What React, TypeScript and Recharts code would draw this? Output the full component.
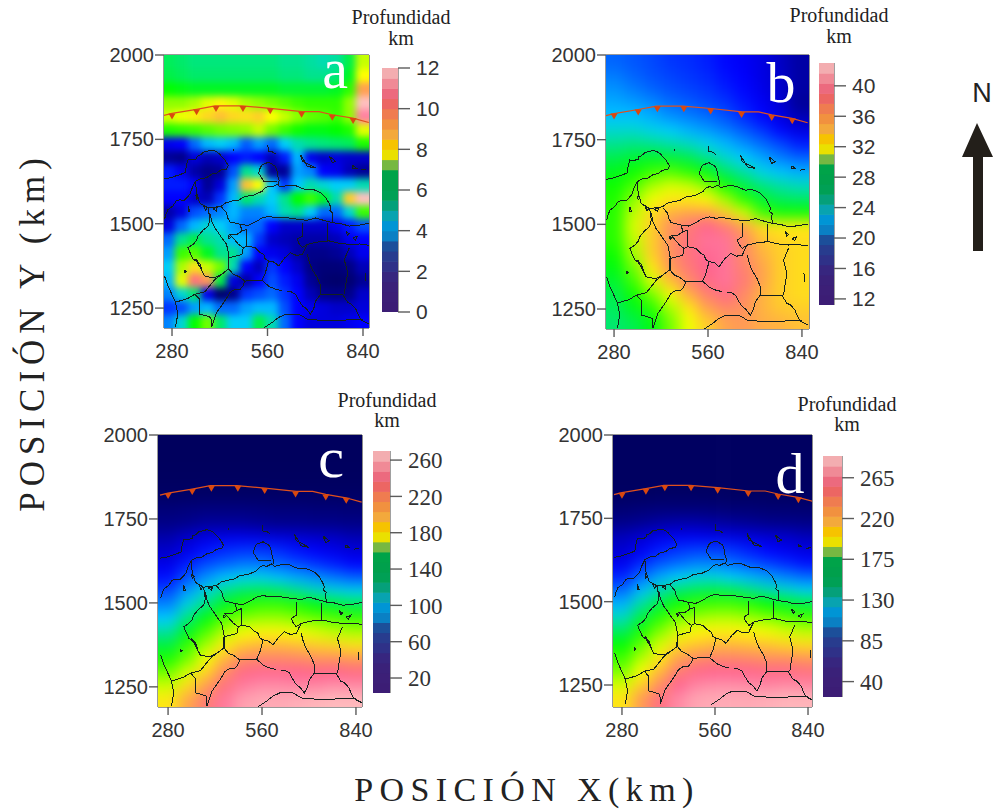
import React from "react";
import { ScatterChart, Scatter, XAxis, YAxis } from "recharts";

type Pt = { x: number; y: number };

// grid centres, km
const gridRows = [1980, 1939, 1899, 1858, 1818, 1777, 1737, 1696, 1656, 1615, 1575, 1534, 1494, 1453, 1413, 1372, 1332, 1291, 1251, 1210];
const gridColsA = [270, 307, 346, 383, 422, 459, 497, 535, 572, 611, 648, 686, 724, 761, 800, 837];
const gridCols = [284, 338, 393, 447, 502, 556, 612, 666, 721, 775, 830];

const depthA = [
  [5.5, 5.4, 5.3, 5.3, 5.3, 5.3, 5.3, 5.3, 5.3, 5.2, 5.2, 5.1, 5.0, 5.1, 5.6, 7.4],
  [5.6, 5.5, 5.4, 5.4, 5.4, 5.4, 5.4, 5.4, 5.4, 5.3, 5.3, 5.2, 5.2, 5.3, 5.8, 7.8],
  [6.0, 5.9, 5.8, 5.8, 5.8, 5.8, 5.8, 5.8, 5.8, 5.7, 5.7, 5.7, 5.7, 5.8, 6.3, 9.0],
  [7.0, 7.0, 7.2, 7.6, 7.9, 7.6, 7.2, 7.0, 6.8, 6.6, 6.4, 6.3, 6.3, 6.3, 7.0, 12.0],
  [7.5, 7.7, 8.0, 8.3, 8.6, 8.3, 8.2, 8.4, 7.8, 7.4, 7.0, 6.7, 6.6, 6.4, 7.0, 11.0],
  [6.2, 6.3, 6.4, 6.6, 6.8, 6.9, 7.0, 7.4, 6.8, 6.4, 6.1, 5.9, 5.9, 6.0, 6.2, 7.6],
  [2.8, 3.0, 3.8, 4.4, 4.6, 4.4, 3.7, 4.2, 3.8, 4.6, 5.0, 5.2, 5.3, 5.4, 5.5, 6.2],
  [1.8, 1.6, 2.6, 2.2, 2.4, 3.0, 3.2, 3.0, 2.2, 3.2, 4.4, 2.8, 2.4, 2.6, 2.4, 2.4],
  [3.2, 2.8, 2.0, 1.6, 1.8, 3.6, 5.2, 4.8, 1.8, 1.8, 4.2, 4.0, 3.0, 2.8, 2.2, 1.8],
  [3.2, 3.2, 3.0, 1.8, 2.6, 4.2, 8.6, 7.8, 4.5, 3.4, 4.5, 5.0, 4.8, 4.6, 4.6, 5.0],
  [3.0, 3.0, 2.4, 2.2, 3.4, 4.4, 5.4, 5.0, 4.6, 5.2, 6.0, 6.4, 5.8, 5.0, 8.4, 12.0],
  [2.0, 2.6, 3.6, 3.8, 4.0, 4.4, 4.0, 4.0, 4.4, 5.0, 5.2, 4.6, 3.8, 3.8, 4.8, 6.4],
  [2.6, 3.8, 4.4, 4.8, 4.6, 4.2, 3.8, 3.8, 3.0, 2.4, 2.4, 2.4, 2.4, 2.8, 3.2, 3.6],
  [3.8, 5.2, 5.6, 5.2, 5.0, 4.4, 4.4, 3.4, 2.4, 2.2, 2.0, 2.0, 2.0, 2.2, 2.8, 3.0],
  [4.2, 6.4, 6.6, 5.8, 5.2, 5.2, 4.2, 3.0, 2.8, 2.6, 2.0, 1.6, 1.6, 1.8, 2.2, 2.8],
  [4.6, 7.2, 8.2, 7.4, 6.8, 5.0, 3.0, 2.2, 3.4, 3.0, 2.4, 1.4, 1.0, 1.0, 1.4, 2.2],
  [4.4, 7.6, 10.0, 9.2, 5.6, 2.6, 2.0, 3.0, 3.6, 3.2, 2.8, 1.8, 0.8, 0.6, 0.8, 1.8],
  [4.0, 4.8, 5.4, 2.8, 0.6, 1.6, 3.4, 3.6, 3.8, 3.4, 3.0, 2.2, 1.6, 1.4, 1.6, 2.4],
  [3.4, 3.6, 4.2, 4.4, 3.8, 3.8, 4.2, 4.4, 4.4, 3.6, 3.0, 2.8, 2.6, 2.4, 2.4, 2.6],
  [4.0, 4.8, 6.0, 6.8, 5.4, 4.6, 4.6, 5.6, 5.0, 3.8, 3.0, 2.6, 2.6, 2.6, 2.8, 3.0],
];

const depthB = [
  [21, 20.7, 20.4, 20, 19.8, 19.5, 19, 18.6, 18, 17, 16],
  [21.5, 21, 20.6, 20.3, 20, 19.7, 19.2, 18.8, 18, 17.2, 16],
  [22, 21.5, 21, 20.6, 20.3, 20, 19.5, 19, 18.2, 17.2, 16],
  [22.5, 22.2, 21.8, 21.2, 20.8, 20.4, 20, 19.3, 18.6, 17.5, 15.5],
  [23, 23, 22.6, 22, 21.6, 21.2, 20.6, 19.8, 19, 18, 16.5],
  [24, 24, 23.6, 23.3, 22.7, 22.2, 21.6, 20.8, 20, 19, 18],
  [25, 25.2, 25, 24.6, 24.2, 23.6, 22.8, 22, 21.2, 20.4, 19.5],
  [26, 26.4, 26.6, 26.4, 26, 25, 24, 23.2, 22.4, 21.6, 21],
  [26.8, 27.5, 28.4, 28.8, 28, 27, 25.6, 24.6, 23.6, 23, 22.6],
  [27.5, 28.6, 30.5, 31.5, 31.2, 29.8, 27.5, 26.2, 25.2, 24.6, 24.2],
  [27.8, 30, 32, 33, 33, 32.5, 30.5, 28, 26.5, 25.8, 25.6],
  [28, 31, 33.5, 35, 35.5, 35.5, 34, 31.5, 28.5, 27.5, 27.5],
  [28, 31.5, 34, 36.5, 38, 39.5, 38, 35.5, 33.5, 33, 33],
  [28, 31, 34, 36.5, 38.5, 40.5, 40.5, 37, 34.5, 33.8, 33.5],
  [27.5, 30.5, 34, 36.5, 38.5, 40, 40.5, 37, 35, 34, 33.5],
  [27, 29.5, 33, 36, 38, 39.5, 40.5, 37.5, 35.5, 34, 33.5],
  [26.5, 28.5, 31.5, 34.5, 37, 39, 40.5, 38, 35.5, 34, 33.5],
  [26, 27.5, 29.5, 32, 35, 37.5, 39, 37, 35, 34, 33.5],
  [25.8, 26.8, 28, 30.5, 33, 35.5, 37, 36.5, 35, 34.2, 34],
  [25.5, 26, 27, 29.5, 32, 34, 35.5, 36, 35.2, 35, 34.5],
];

const depthC = [
  [8, 8, 8, 8, 8, 8, 8, 8, 8, 8, 8],
  [8, 8, 8, 8, 8, 8, 8, 8, 8, 8, 8],
  [9, 9, 9, 9, 9, 9, 9, 9, 9, 9, 9],
  [10, 10, 10, 10, 10, 10, 10, 10, 10, 10, 10],
  [14, 14, 15, 15, 15, 15, 14, 14, 14, 14, 14],
  [28, 32, 34, 34, 34, 32, 30, 30, 28, 28, 26],
  [38, 42, 46, 46, 46, 44, 42, 42, 40, 40, 38],
  [50, 58, 64, 66, 66, 64, 62, 60, 58, 56, 52],
  [58, 66, 74, 78, 80, 80, 78, 74, 70, 66, 62],
  [66, 76, 84, 88, 92, 92, 88, 84, 80, 76, 72],
  [74, 86, 96, 104, 108, 108, 104, 100, 96, 92, 88],
  [84, 98, 110, 120, 126, 128, 126, 120, 114, 110, 108],
  [94, 110, 122, 134, 142, 146, 146, 142, 136, 132, 128],
  [106, 122, 136, 150, 158, 162, 162, 158, 154, 150, 146],
  [118, 134, 150, 166, 176, 180, 180, 176, 172, 168, 165],
  [130, 146, 164, 182, 194, 198, 198, 196, 192, 190, 186],
  [142, 156, 176, 198, 214, 218, 218, 216, 212, 212, 208],
  [156, 172, 190, 214, 232, 238, 238, 236, 234, 236, 232],
  [170, 188, 206, 228, 246, 252, 252, 250, 250, 254, 252],
  [184, 202, 222, 244, 258, 262, 262, 264, 266, 268, 268],
];

const depthD = [
  [28, 28, 28, 28, 28, 28, 28, 28, 28, 28, 28],
  [28, 28, 28, 28, 28, 28, 28, 28, 28, 28, 28],
  [28, 28, 28, 28, 28, 28, 28, 28, 28, 28, 28],
  [28, 28, 28, 28, 28, 28, 28, 28, 28, 28, 28],
  [30, 30, 31, 31, 31, 31, 30, 30, 30, 30, 30],
  [42, 46, 48, 48, 48, 46, 44, 44, 42, 42, 40],
  [58, 62, 66, 68, 68, 66, 64, 62, 60, 58, 56],
  [72, 78, 84, 86, 86, 84, 82, 80, 78, 76, 72],
  [78, 86, 94, 98, 100, 100, 98, 94, 90, 86, 82],
  [86, 96, 104, 108, 112, 112, 108, 104, 100, 96, 92],
  [96, 108, 118, 124, 128, 128, 124, 120, 116, 112, 108],
  [108, 122, 134, 142, 146, 148, 146, 140, 134, 130, 126],
  [120, 136, 148, 158, 164, 166, 166, 162, 156, 152, 148],
  [132, 148, 162, 174, 180, 184, 184, 180, 176, 170, 166],
  [144, 160, 176, 190, 198, 200, 200, 198, 194, 190, 186],
  [156, 172, 190, 206, 212, 216, 216, 214, 212, 208, 206],
  [166, 184, 202, 222, 232, 236, 236, 234, 230, 230, 226],
  [176, 196, 216, 240, 252, 256, 256, 254, 252, 252, 248],
  [190, 210, 232, 256, 268, 272, 272, 270, 268, 270, 268],
  [204, 226, 248, 270, 280, 282, 282, 282, 284, 286, 286],
];

// map outlines, [x km, y km]
const borders: number[][][] = [
  [[256, 1633], [275, 1636], [292, 1642], [305, 1646], [319, 1652], [322, 1672], [327, 1690], [340, 1689], [352, 1692], [354, 1700], [361, 1702], [372, 1712], [381, 1714], [395, 1718], [406, 1716], [418, 1708], [425, 1700], [436, 1688], [445, 1672], [440, 1662], [425, 1660], [411, 1650], [396, 1647], [381, 1636], [364, 1634], [349, 1626], [342, 1612], [337, 1601], [334, 1590], [327, 1581], [315, 1569], [303, 1571], [292, 1567], [282, 1552], [268, 1542], [262, 1528], [258, 1513]],
  [[349, 1626], [352, 1591], [357, 1575], [361, 1562], [375, 1552], [386, 1547], [405, 1549], [425, 1552], [438, 1562], [455, 1567], [475, 1570], [494, 1581], [520, 1585], [544, 1596], [552, 1606], [563, 1611], [575, 1609], [588, 1616], [598, 1609], [620, 1614], [642, 1613], [658, 1606], [672, 1601], [688, 1603], [701, 1599], [716, 1592], [731, 1577], [741, 1560], [746, 1547], [743, 1538], [751, 1532], [750, 1516], [753, 1501]],
  [[534, 1650], [538, 1664], [544, 1675], [552, 1678], [563, 1682], [574, 1676], [583, 1670], [588, 1655], [590, 1640], [594, 1628], [593, 1616]],
  [[534, 1650], [549, 1626], [588, 1626]],
  [[386, 1547], [391, 1513], [386, 1493], [372, 1482], [356, 1463], [352, 1450], [342, 1439], [327, 1429], [333, 1414], [342, 1395], [352, 1388], [361, 1375], [368, 1360], [376, 1345], [390, 1342], [406, 1340], [425, 1350], [445, 1365], [447, 1404], [440, 1439], [428, 1455], [416, 1473], [405, 1488], [396, 1508], [391, 1532]],
  [[425, 1550], [440, 1532], [443, 1518], [450, 1505], [465, 1502], [480, 1498], [502, 1495], [524, 1505], [544, 1517], [563, 1522], [583, 1518], [603, 1520], [628, 1516], [652, 1513], [676, 1510], [701, 1517], [725, 1510], [750, 1503], [775, 1500], [800, 1493], [830, 1496], [857, 1501]],
  [[480, 1498], [485, 1478], [499, 1483], [499, 1434], [524, 1429], [538, 1415], [549, 1409], [553, 1396], [563, 1390], [580, 1386], [593, 1375], [610, 1398], [627, 1414], [645, 1406], [662, 1409], [670, 1426], [677, 1439], [708, 1446], [741, 1449], [770, 1442], [800, 1439], [830, 1440], [857, 1436]],
  [[662, 1503], [662, 1463], [647, 1454], [652, 1442], [662, 1429], [677, 1439]],
  [[736, 1501], [736, 1449]],
  [[485, 1478], [470, 1468], [450, 1468], [475, 1439], [489, 1429], [485, 1409], [447, 1399]],
  [[499, 1434], [489, 1429]],
  [[447, 1399], [447, 1365], [460, 1350], [475, 1344], [494, 1330], [520, 1332], [544, 1332], [554, 1355], [563, 1390]],
  [[544, 1332], [565, 1314], [583, 1306], [603, 1301]],
  [[617, 1299], [630, 1298], [642, 1291], [652, 1272], [662, 1257], [674, 1248], [686, 1232], [696, 1250], [701, 1271], [716, 1291], [750, 1291], [780, 1291], [795, 1267], [806, 1262], [819, 1247], [826, 1230], [834, 1215], [857, 1203]],
  [[677, 1409], [683, 1385], [691, 1365], [706, 1340], [716, 1316], [716, 1291]],
  [[800, 1429], [785, 1394], [795, 1355], [785, 1291]],
  [[494, 1330], [488, 1316], [480, 1306], [462, 1304], [450, 1296], [438, 1276], [425, 1257], [410, 1236], [396, 1193]],
  [[445, 1365], [406, 1335], [376, 1298], [347, 1291], [325, 1278], [302, 1271], [290, 1268], [278, 1294], [268, 1316], [258, 1345]],
  [[347, 1291], [361, 1276], [361, 1232], [378, 1228], [394, 1222], [396, 1193]],
  [[290, 1268], [297, 1232], [290, 1193]],
  [[549, 1191], [573, 1207], [592, 1222], [613, 1232], [652, 1232], [677, 1217], [712, 1214], [750, 1212], [795, 1215], [839, 1215]],
  [[561, 1732], [563, 1714], [572, 1714], [583, 1707]],
  [[657, 1704], [662, 1685], [682, 1675], [701, 1665], [677, 1670], [657, 1704]],
  [[741, 1700], [750, 1680], [760, 1685], [741, 1700]],
  [[460, 1722], [460, 1716]],
  [[810, 1673], [820, 1665], [810, 1665], [810, 1673]],
  [[834, 1660], [849, 1662]],
  [[327, 1552], [332, 1537], [327, 1537], [327, 1552]],
  [[846, 1355], [849, 1330]],
  [[810, 1458], [824, 1463], [818, 1452], [810, 1458]],
  [[372, 1555], [384, 1548], [378, 1540], [372, 1555]],
  [[400, 1545], [412, 1548], [410, 1538], [400, 1545]],
  [[445, 1465], [452, 1460], [447, 1455], [445, 1465]],
  [[350, 1395], [362, 1380], [368, 1362], [358, 1378], [350, 1395]],
  [[316, 1362], [322, 1358], [318, 1355], [316, 1362]],
  [[350, 1585], [358, 1578], [352, 1572], [350, 1585]],
  [[790, 1478], [800, 1470], [795, 1465], [790, 1478]],
];

const thrustLine = [[256, 1821], [280, 1827], [352, 1839], [406, 1849], [485, 1849], [568, 1842], [662, 1832], [711, 1832], [750, 1823], [810, 1813], [857, 1800]];
const thrustTeeth = [[280, 1827], [352, 1839], [409, 1849], [488, 1849], [568, 1842], [660, 1832], [750, 1823], [811, 1813]];

// colour strip of the scale bars, bottom to top
const barColors = [
  "#3c1d75", "#3c1f77", "#3a2179", "#37267f", "#2f3188", "#283c8e", "#1c4f9a", "#0a80c4",
  "#0095d5", "#08a3b0", "#05a07a", "#00a055", "#00a04c", "#00a349", "#76b842", "#eae000",
  "#f6c300", "#f3a93c", "#f1913f", "#ef7c50", "#ec6663", "#ec6a7e", "#f08a96", "#f3adb0",
];

// colour ramp of the maps
const rampStops: [number, number[]][] = [
  [0, [0, 0, 90]],
  [0.14, [0, 0, 140]],
  [0.25, [0, 0, 255]],
  [0.38, [0, 205, 255]],
  [0.5, [0, 255, 0]],
  [0.65, [255, 255, 0]],
  [0.75, [255, 160, 80]],
  [0.87, [255, 96, 144]],
  [1, [255, 192, 192]],
];

const rampColor = (t: number) => {
  const v = Math.max(0, Math.min(1, t));
  for (let i = 1; i < rampStops.length; i++) {
    const [t1, c1] = rampStops[i];
    const [t0, c0] = rampStops[i - 1];
    if (v <= t1) {
      const f = (v - t0) / (t1 - t0);
      const c = c0.map((a, k) => Math.round(a + (c1[k] - a) * f));
      return `rgb(${c[0]},${c[1]},${c[2]})`;
    }
  }
  return "rgb(255,192,192)";
};

const toCells = (cols: number[], rows: number[], values: number[][]) =>
  rows.flatMap((y, r) => cols.map((x, c) => ({ x, y, v: values[r][c], r, c })));

const toPoints = (line: number[][]): Pt[] => line.map(([x, y]) => ({ x, y }));

const NoDot = () => null;

const Tooth = (props: any) => {
  const { cx, cy } = props;
  return <path d={`M${cx - 3.5},${cy} L${cx + 3.5},${cy} L${cx},${cy + 6} Z`} fill="#d9480f" />;
};

const SANS = "'Liberation Sans', Arial, sans-serif";
const SERIF = "'Liberation Serif', 'Times New Roman', serif";
const axisGray = "#5c5c5c";

type PanelProps = {
  left: number; top: number; width: number; height: number;
  xDomain: number[]; yDomain: number[];
  topTicks: number[]; rightTicks: number[];
  cols: number[]; values: number[][]; range: number[]; heat: string;
};

function MapPanel({ left, top, width, height, xDomain, yDomain, topTicks, rightTicks, cols, values, range, heat }: PanelProps) {
  const cw = width / cols.length;
  const ch = height / gridRows.length;
  const cells = toCells(cols, gridRows, values);
  const Cell = (props: any) => {
    const { cx, cy, payload } = props;
    const padL = payload.c === 0 ? 30 : 0;
    const padR = payload.c === cols.length - 1 ? 30 : 0;
    const padT = payload.r === 0 ? 30 : 0;
    const padB = payload.r === gridRows.length - 1 ? 30 : 0;
    const t = (payload.v - range[0]) / (range[1] - range[0]);
    return (
      <rect
        x={cx - cw / 2 - padL}
        y={cy - ch / 2 - padT}
        width={cw + 1 + padL + padR}
        height={ch + 1 + padT + padB}
        fill={rampColor(t)}
      />
    );
  };
  const tickStyle = { fontSize: 20, fill: "#333", fontFamily: SANS };
  return (
    <div style={{ position: "absolute", left: left - 70, top: top - 14 }}>
      <ScatterChart width={width + 90} height={height + 54} margin={{ top: 0, right: 5, bottom: 0, left: 0 }}>
        <XAxis xAxisId="b" type="number" dataKey="x" domain={xDomain} ticks={[280, 560, 840]} allowDataOverflow interval={0}
          height={40} tickSize={8} tickMargin={8} tick={tickStyle} axisLine={{ stroke: "#333" }} tickLine={{ stroke: axisGray, strokeWidth: 1.4 }} />
        <XAxis xAxisId="t" orientation="top" type="number" domain={xDomain} ticks={topTicks} allowDataOverflow interval={0}
          height={14} tickSize={10} tick={false} axisLine={{ stroke: "#333" }} tickLine={{ stroke: axisGray, strokeWidth: 1.4 }} />
        <YAxis yAxisId="l" type="number" dataKey="y" domain={yDomain} ticks={[1250, 1500, 1750, 2000]} allowDataOverflow interval={0}
          width={70} tickSize={9} tickMargin={1} tick={tickStyle} axisLine={{ stroke: "#333" }} tickLine={{ stroke: axisGray, strokeWidth: 1.4 }} />
        <YAxis yAxisId="r" orientation="right" type="number" domain={yDomain} ticks={rightTicks} allowDataOverflow interval={0}
          width={15} tickSize={9} tick={false} axisLine={{ stroke: "#8a8a8a", strokeWidth: 2 }} tickLine={{ stroke: axisGray, strokeWidth: 1.4 }} />
        <Scatter xAxisId="b" yAxisId="l" className={heat} data={cells} shape={Cell} isAnimationActive={false} />
        {borders.map((line, i) => (
          <Scatter key={i} xAxisId="b" yAxisId="l" className="border-line" data={toPoints(line)} shape={NoDot} line={{ stroke: "#14201f", strokeWidth: 1 }} isAnimationActive={false} />
        ))}
        <Scatter xAxisId="b" yAxisId="l" data={toPoints(thrustLine)} shape={NoDot} line={{ stroke: "#e0501c", strokeWidth: 1.2 }} isAnimationActive={false} />
        <Scatter xAxisId="b" yAxisId="l" data={toPoints(thrustTeeth)} shape={Tooth} isAnimationActive={false} />
      </ScatterChart>
    </div>
  );
}

type BarProps = { left: number; top: number; width: number; height: number; domain: number[]; ticks: number[]; font: string; size: number };

function ScaleBar({ left, top, width, height, domain, ticks, font, size }: BarProps) {
  const ch = height / barColors.length;
  const cells = barColors.map((fill, i) => ({
    x: 0.5,
    y: domain[0] + ((i + 0.5) * (domain[1] - domain[0])) / barColors.length,
    fill,
  }));
  const Band = (props: any) => (
    <rect x={props.cx - width / 2} y={props.cy - ch / 2} width={width} height={ch + 0.6} fill={props.payload.fill} />
  );
  return (
    <div style={{ position: "absolute", left, top: top - 12 }}>
      <ScatterChart width={width + 70} height={height + 24} margin={{ top: 12, right: 0, bottom: 12, left: 0 }}>
        <XAxis xAxisId="b" type="number" dataKey="x" domain={[0, 1]} hide />
        <YAxis yAxisId="r" orientation="right" type="number" dataKey="y" domain={domain} ticks={ticks} allowDataOverflow interval={0}
          width={70} tickSize={12} tickMargin={6} tick={{ fontSize: size, fill: "#333", fontFamily: font }}
          axisLine={{ stroke: "#777", strokeWidth: 1.4 }} tickLine={{ stroke: axisGray, strokeWidth: 1.4 }} />
        <Scatter xAxisId="b" yAxisId="r" data={cells} shape={Band} isAnimationActive={false} />
      </ScatterChart>
    </div>
  );
}

const depthLabels = [
  { x: 401, y: 24, ky: 45 },
  { x: 839, y: 22, ky: 43 },
  { x: 387, y: 407, ky: 427 },
  { x: 847, y: 411, ky: 431 },
];

const panelLetters = [
  { t: "a", x: 335, y: 88 },
  { t: "b", x: 781, y: 102 },
  { t: "c", x: 331, y: 477 },
  { t: "d", x: 790, y: 493 },
];

const heatCss = `.heat-fine{filter:blur(3.8px)}.heat-wide{filter:blur(7px)}.border-line path{shape-rendering:crispEdges}`;

export default function App() {
  return (
    <div style={{ position: "absolute", left: 0, top: 0, width: 995, height: 809, background: "#fff", overflow: "hidden" }}>
      <style>{heatCss}</style>
      <MapPanel left={164} top={55} width={205} height={273} xDomain={[256.5, 857.6]} yDomain={[1191, 2000]}
        topTicks={[397, 602, 796]} rightTicks={[1191, 1400, 1596, 1798, 2000]} cols={gridColsA} values={depthA} range={[0, 12]} heat="heat-fine" />
      <MapPanel left={606} top={55} width={203} height={274} xDomain={[256, 861]} yDomain={[1191, 2000]}
        topTicks={[256, 399, 602, 804]} rightTicks={[1500, 2000]} cols={gridCols} values={depthB} range={[10.5, 44]} heat="heat-wide" />
      <MapPanel left={158} top={435} width={204} height={272} xDomain={[250, 858]} yDomain={[1190, 2000]}
        topTicks={[399, 596, 798]} rightTicks={[]} cols={gridCols} values={depthC} range={[5, 270]} heat="heat-wide" />
      <MapPanel left={613} top={435} width={199} height={272} xDomain={[253, 852]} yDomain={[1184, 2000]}
        topTicks={[400, 599, 795]} rightTicks={[1196, 1394, 1598, 1803, 2000]} cols={gridCols} values={depthD} range={[23, 290]} heat="heat-wide" />

      <ScaleBar left={382} top={68} width={16} height={244} domain={[0, 12]} ticks={[0, 2, 4, 6, 8, 10, 12]} font={SANS} size={21} />
      <ScaleBar left={819} top={63} width={15} height={242} domain={[11.2, 43]} ticks={[12, 16, 20, 24, 28, 32, 36, 40]} font={SANS} size={21} />
      <ScaleBar left={373} top={451} width={17} height={242} domain={[3.5, 270]} ticks={[20, 60, 100, 140, 180, 220, 260]} font={SERIF} size={23} />
      <ScaleBar left={823} top={456} width={19} height={241} domain={[23, 289]} ticks={[40, 85, 130, 175, 220, 265]} font={SERIF} size={23} />

      <svg width={995} height={809} style={{ position: "absolute", left: 0, top: 0, pointerEvents: "none" }}>
        {depthLabels.map((d, i) => (
          <g key={i} fontFamily={SERIF} fontSize={20} fill="#222" textAnchor="middle">
            <text x={d.x} y={d.y}>Profundidad</text>
            <text x={d.x} y={d.ky}>km</text>
          </g>
        ))}
        {panelLetters.map((p) => (
          <text key={p.t} x={p.x} y={p.y} fontFamily={SERIF} fontSize={58} fill="#fff" textAnchor="middle">{p.t}</text>
        ))}
        <text x={0} y={0} transform="translate(44,332) rotate(-90)" fontFamily={SERIF} fontSize={35} fill="#222" textAnchor="middle" letterSpacing={6}>POSICIÓN Y (km)</text>
        <text x={527} y={801} fontFamily={SERIF} fontSize={34} fill="#222" textAnchor="middle" letterSpacing={6.4}>POSICIÓN X(km)</text>
        <text x={982} y={102} fontFamily={SANS} fontSize={27} fill="#222" textAnchor="middle">N</text>
        <path d="M977,123 L993,157 L983,157 L983,251 L973,251 L973,157 L962,157 Z" fill="#231f1a" />
      </svg>
    </div>
  );
}
